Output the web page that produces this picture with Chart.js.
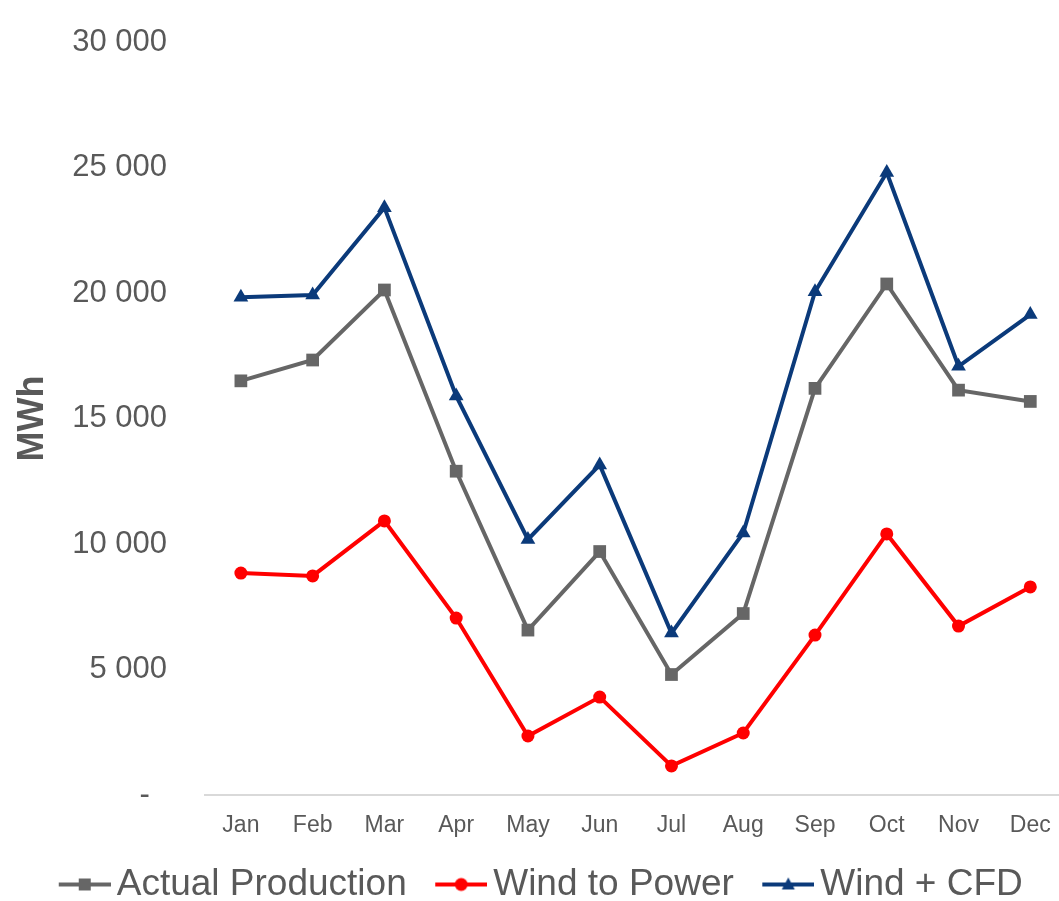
<!DOCTYPE html>
<html>
<head>
<meta charset="utf-8">
<title>Monthly production</title>
<script src="https://cdn.jsdelivr.net/npm/chart.js@4"></script>
<style>
  html, body { margin: 0; padding: 0; background: #ffffff; }
  #wrap { width: 1059px; height: 901px; }
</style>
</head>
<body>
<div id="wrap"><canvas id="chart" width="1059" height="901"></canvas></div>
<script>
// Month labels along the x axis
const months = ['Jan', 'Feb', 'Mar', 'Apr', 'May', 'Jun', 'Jul', 'Aug', 'Sep', 'Oct', 'Nov', 'Dec'];

// Monthly energy, MWh
const actualProduction = [16500, 17330, 20120, 12900, 6570, 9700, 4800, 7230, 16200, 20360, 16130, 15680];
const windToPower      = [8840, 8730, 10920, 7050, 2350, 3900, 1160, 2470, 6370, 10400, 6730, 8290];
const windPlusCfd      = [19830, 19920, 23400, 15900, 10180, 13150, 6450, 10440, 20050, 24800, 17080, 19140];

// Y axis tick values
const yTicks = [0, 5000, 10000, 15000, 20000, 25000, 30000];

const seriesNames = ['Actual Production', 'Wind to Power', 'Wind + CFD'];
const seriesColors = ['#666666', '#ff0000', '#0b3a7a'];
const seriesMarkers = ['rect', 'circle', 'triangle'];
const markerRadius = { rect: 9, circle: 6.5, triangle: 8.5 };

const FONT = '"Liberation Sans", Arial, "DejaVu Sans", sans-serif';
const TEXT = '#595959';

function withSpaces(v) {
  return String(v).replace(/\B(?=(\d{3})+(?!\d))/g, ' ');
}

// Legend icon: a short line with the series marker in the middle,
// drawn at the right-hand end of a wider transparent canvas.
function legendIcon(color, marker) {
  const c = document.createElement('canvas');
  c.width = 67; c.height = 18;
  const g = c.getContext('2d');
  const x0 = 15, x1 = 67, cy = 9, cx = (x0 + x1) / 2;
  g.strokeStyle = color; g.fillStyle = color; g.lineWidth = 4;
  g.beginPath(); g.moveTo(x0, cy); g.lineTo(x1, cy); g.stroke();
  g.beginPath();
  if (marker === 'rect') {
    g.rect(cx - 6, cy - 6, 12, 12);
  } else if (marker === 'circle') {
    g.arc(cx, cy, 6.5, 0, Math.PI * 2);
  } else {
    g.moveTo(cx, cy - 7); g.lineTo(cx + 6.5, cy + 5); g.lineTo(cx - 6.5, cy + 5); g.closePath();
  }
  g.fill();
  return c;
}
const legendIcons = seriesColors.map((c, i) => legendIcon(c, seriesMarkers[i]));

const seriesValues = [actualProduction, windToPower, windPlusCfd];
const datasets = seriesValues.map((vals, i) => ({
  label: seriesNames[i],
  data: vals.map((v, k) => ({ x: k, y: v })),
  borderColor: seriesColors[i],
  backgroundColor: seriesColors[i],
  borderWidth: 4,
  pointStyle: seriesMarkers[i],
  pointRadius: markerRadius[seriesMarkers[i]],
  pointHoverRadius: markerRadius[seriesMarkers[i]],
  pointBorderWidth: 0,
  pointBackgroundColor: seriesColors[i],
  tension: 0,
  fill: false,
  clip: false
}));

new Chart(document.getElementById('chart'), {
  type: 'line',
  data: { datasets },
  options: {
    responsive: false,
    animation: false,
    layout: { autoPadding: false, padding: { top: 42, left: 20, right: 0, bottom: -12 } },
    plugins: {
      tooltip: { enabled: false },
      legend: {
        position: 'bottom',
        labels: {
          usePointStyle: true,
          pointStyleWidth: 42,
          padding: 26,
          color: TEXT,
          font: { family: FONT, size: 37 },
          generateLabels: (chart) => chart.data.datasets.map((ds, i) => ({
            text: ds.label,
            fontColor: TEXT,
            pointStyle: legendIcons[i],
            fillStyle: 'transparent',
            strokeStyle: 'transparent',
            lineWidth: 0,
            hidden: false,
            datasetIndex: i
          }))
        }
      }
    },
    scales: {
      x: {
        type: 'linear',
        min: -0.5,
        max: 11.4,
        grid: { display: false, drawTicks: true, tickLength: 17 },
        border: { display: true, color: '#d9d9d9', width: 2 },
        ticks: {
          stepSize: 1,
          includeBounds: false,
          autoSkip: false,
          maxRotation: 0,
          padding: 0,
          color: TEXT,
          font: { family: FONT, size: 23 },
          callback: (v) => (Number.isInteger(v) && v >= 0 && v < months.length) ? months[v] : ''
        },
        afterFit: (axis) => { axis.height = 45; }
      },
      y: {
        min: yTicks[0],
        max: yTicks[yTicks.length - 1],
        grid: { display: false, drawTicks: true, tickLength: 38 },
        border: { display: false },
        afterBuildTicks: (axis) => { axis.ticks = yTicks.map(v => ({ value: v })); },
        ticks: {
          padding: 0,
          color: TEXT,
          font: { family: FONT, size: 31 },
          callback: (v) => v === 0 ? '-  ' : withSpaces(v)
        },
        title: {
          display: true,
          text: 'MWh',
          color: TEXT,
          font: { family: FONT, size: 36, weight: 'bold', lineHeight: 0.72 },
          padding: { top: 0, bottom: 0 }
        },
        afterFit: (axis) => { axis.width = 185; }
      }
    }
  }
});
</script>
</body>
</html>
